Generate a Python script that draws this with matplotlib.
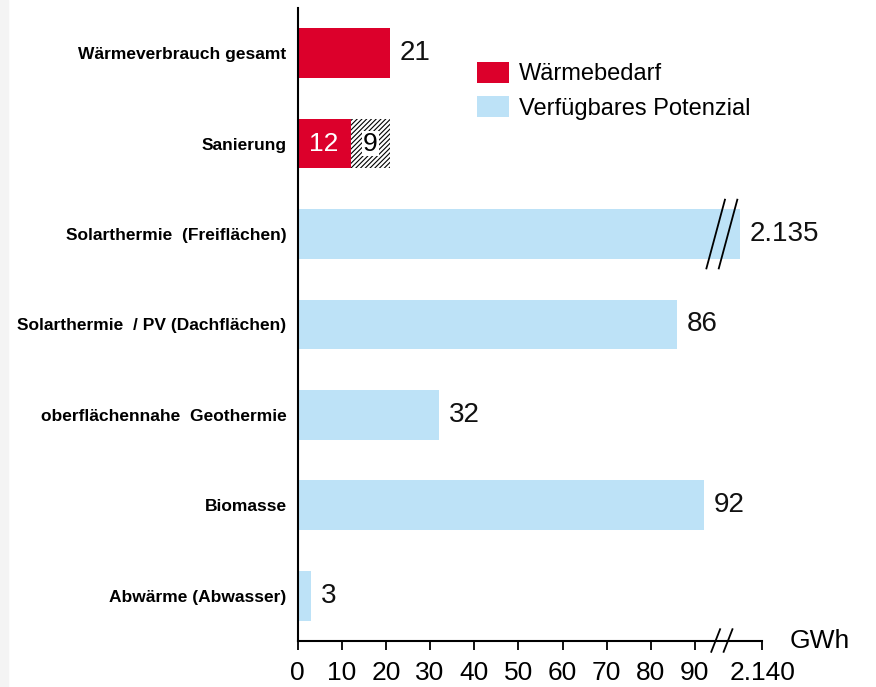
import matplotlib
matplotlib.use('Agg')
import matplotlib.pyplot as plt
from matplotlib.patches import Patch, Rectangle
import numpy as np

plt.rcParams['font.family'] = ['Liberation Sans', 'DejaVu Sans']
plt.rcParams['hatch.linewidth'] = 0.8

categories = ['Wärmeverbrauch gesamt', 'Sanierung', 'Solarthermie  (Freiflächen)',
              'Solarthermie  / PV (Dachflächen)', 'oberflächennahe  Geothermie',
              'Biomasse', 'Abwärme (Abwasser)']
values = [21, 12, 2135, 86, 32, 92, 3]
kinds = ['bedarf', 'bedarf', 'potenzial', 'potenzial', 'potenzial', 'potenzial', 'potenzial']
value_labels = ['21', '12', '2.135', '86', '32', '92', '3']
sanierung_rest = 9
tick_values = [0, 10, 20, 30, 40, 50, 60, 70, 80, 90, 2140]
tick_labels = ['0', '10', '20', '30', '40', '50', '60', '70', '80', '90', '2.140']

RED = '#dc002b'
BLUE = '#bde2f7'

# axis break: everything above 100 is shifted so 2140 sits just right of 90
X_END = 105.3
BREAK_AT = 96.1


def brk(v):
    v = np.asarray(v, dtype=float)
    return np.where(v <= 100, v, v - 2140 + X_END)


fig = plt.figure(figsize=(8.76, 6.87), dpi=100)
fig.patches.append(Rectangle((0, 0), 8 / 876, 1, transform=fig.transFigure,
                             color='#f4f4f4', zorder=-1))
ax = fig.add_axes([0.3398, 0.0670, 0.5306, 0.9214])

y = np.arange(len(categories))
colors = [RED if k == 'bedarf' else BLUE for k in kinds]
ax.barh(y, brk(values), height=0.55, color=colors, zorder=2)

# Sanierung: remaining part hatched
ax.barh(1, sanierung_rest, left=values[1], height=0.55, color='white',
        edgecolor='black', linewidth=0, hatch='///////', zorder=2)
ax.text(values[1] / 2, 1, value_labels[1], color='white', fontsize=19,
        ha='center', va='center', zorder=3)
ax.text(values[1] + sanierung_rest / 2, 1, str(sanierung_rest), color='black', fontsize=19,
        ha='center', va='center', zorder=3,
        bbox=dict(facecolor='white', edgecolor='none', pad=0.5))

for i, (v, lab) in enumerate(zip(values, value_labels)):
    if i == 1:
        continue
    ax.annotate(lab, (float(brk(v)), i), xytext=(7, 0), textcoords='offset points',
                ha='left', va='center', fontsize=20, color='#111111')

ax.set_ylim(6.5, -0.5)
ax.set_xlim(0, X_END)
ax.set_yticks(y)
ax.set_yticklabels(categories, fontsize=12.5, fontweight='bold')
ax.tick_params(axis='y', length=0, pad=8)
ax.set_xticks(brk(tick_values))
ax.set_xticklabels(tick_labels, fontsize=19)
ax.tick_params(axis='x', length=6.5, width=1.3, pad=8)

for side in ['top', 'right']:
    ax.spines[side].set_visible(False)
for side in ['left', 'bottom']:
    ax.spines[side].set_linewidth(1.5)

# break marks on the x axis and on the broken bar
for dx in (-1.4, 1.4):
    ax.plot([BREAK_AT + dx - 1.0, BREAK_AT + dx + 1.0], [6.62, 6.37], color='black',
            lw=1.3, clip_on=False, zorder=4)
    ax.plot([BREAK_AT + dx - 2.1, BREAK_AT + dx + 2.1], [2.38, 1.62], color='black',
            lw=1.3, zorder=4)

ax.annotate('GWh', (1, 0), xycoords='axes fraction', xytext=(27, 0),
            textcoords='offset pixels', ha='left', va='center', fontsize=19)

handles = [Patch(facecolor=RED), Patch(facecolor=BLUE)]
ax.legend(handles, ['Wärmebedarf', 'Verfügbares Potenzial'], loc='upper left',
          bbox_to_anchor=(477 / 876, 1 - 62 / 687), bbox_transform=fig.transFigure,
          frameon=False, fontsize=17, handlelength=1.36, handleheight=0.97,
          handletextpad=0.4, labelspacing=0.45, borderpad=0, borderaxespad=0)

fig.savefig('out.png', dpi=100)
